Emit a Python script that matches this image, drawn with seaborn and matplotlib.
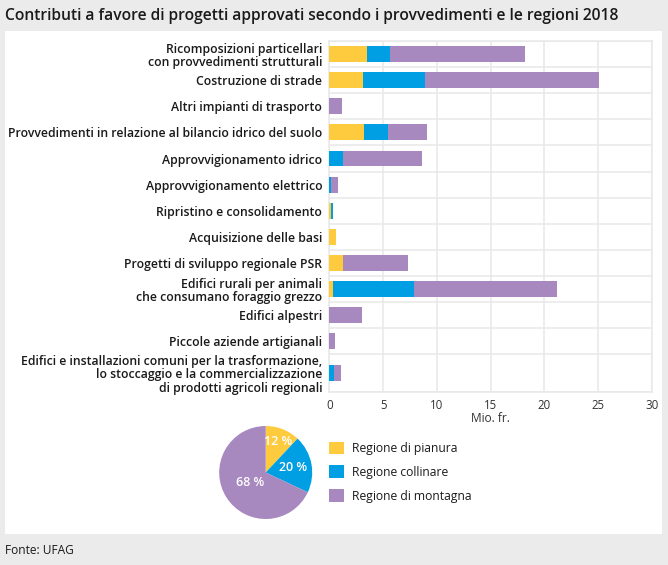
import numpy as np
import pandas as pd
import matplotlib
matplotlib.use("Agg")
import matplotlib.pyplot as plt
from matplotlib.patches import Rectangle, Patch
import seaborn as sns

# ---------------- data ----------------
categories = [
    "Ricomposizioni particellari\ncon provvedimenti strutturali",
    "Costruzione di strade",
    "Altri impianti di trasporto",
    "Provvedimenti in relazione al bilancio idrico del suolo",
    "Approvvigionamento idrico",
    "Approvvigionamento elettrico",
    "Ripristino e consolidamento",
    "Acquisizione delle basi",
    "Progetti di sviluppo regionale PSR",
    "Edifici rurali per animali\nche consumano foraggio grezzo",
    "Edifici alpestri",
    "Piccole aziende artigianali",
    "Edifici e installazioni comuni per la trasformazione,\nlo stoccaggio e la commercializzazione\ndi prodotti agricoli regionali",
]
pianura = [3.5, 3.15, 0.0, 3.2, 0.0, 0.0, 0.2, 0.65, 1.25, 0.3, 0.0, 0.0, 0.0]
collinare = [2.1, 5.75, 0.0, 2.25, 1.25, 0.15, 0.15, 0.0, 0.0, 7.55, 0.0, 0.0, 0.45]
montagna = [12.55, 16.2, 1.15, 3.65, 7.4, 0.7, 0.0, 0.0, 6.05, 13.3, 3.0, 0.55, 0.6]
series_names = ["Regione di pianura", "Regione collinare", "Regione di montagna"]
pie_shares = [12, 20, 68]
pie_labels = ["12 %", "20 %", "68 %"]
x_ticks = [0, 5, 10, 15, 20, 25, 30]
x_label = "Mio. fr."
title = "Contributi a favore di progetti approvati secondo i provvedimenti e le regioni 2018"
source = "Fonte: UFAG"

# ---------------- style ----------------
colors = ["#FECB3F", "#009FE3", "#A788BF"]
grid_c = "#E8E8E8"
bg_c = "#EBEBEB"
text_c = "#1A1A1A"
fs = 8.7

sns.set_theme(style="white")
plt.rcParams["font.family"] = ["Open Sans", "DejaVu Sans"]
plt.rcParams["font.size"] = fs

W, H = 668, 565
fig = plt.figure(figsize=(W / 100, H / 100), dpi=100, facecolor=bg_c)

def px(x0, y0, x1, y1):
    return [x0 / W, 1 - y1 / H, (x1 - x0) / W, (y1 - y0) / H]

# white panel
fig.patches.append(Rectangle((5 / W, 1 - 534 / H), (662 - 5) / W, (534 - 30.5) / H,
                             transform=fig.transFigure, facecolor="white",
                             edgecolor="none", zorder=-10))

fig.text(5 / W, 1 - 16.5 / H, title, fontsize=11.25, color=text_c,
         va="center", ha="left", fontweight="semibold")
fig.text(5 / W, 1 - 551 / H, source, fontsize=8.6, color=text_c,
         va="center", ha="left")

# ---------------- bar chart ----------------
ax = fig.add_axes(px(329.3, 41, 652, 391.7))
ax.set_facecolor("white")

row_h = np.array([1.0 if c.count("\n") < 2 else 1.43 for c in categories])
edges = np.concatenate([[0.0], np.cumsum(row_h)])
centers = edges[:-1] + row_h / 2

p = np.array(pianura)
c = np.array(collinare)
m = np.array(montagna)
df = pd.DataFrame({
    "pos": centers,
    "s1": p,
    "s2": p + c,
    "s3": p + c + m,
})

for col, colr in zip(["s3", "s2", "s1"], colors[::-1]):
    sns.barplot(data=df, x=col, y="pos", orient="y", native_scale=True,
                width=0.61, color=colr, saturation=1, linewidth=0,
                errorbar=None, ax=ax, zorder=3)

ax.set_xlim(0, 30)
ax.set_ylim(edges[-1], 0)
ax.set_xticks(x_ticks)
ax.set_xticklabels([str(t) for t in x_ticks], color="#333333", fontsize=8.3)
ax.set_yticks(centers)
ax.set_yticklabels(categories, color=text_c, fontsize=8.8, fontweight="semibold",
                   linespacing=1.08)
ax.set_yticks(edges, minor=True)
ax.tick_params(axis="both", which="both", length=0)
ax.tick_params(axis="y", pad=5)
ax.tick_params(axis="x", pad=5)
ax.xaxis.grid(True, color=grid_c, lw=1.1)
ax.yaxis.grid(True, which="minor", color=grid_c, lw=1.1)
ax.yaxis.grid(False, which="major")
ax.set_axisbelow(True)
for s in ax.spines.values():
    s.set_visible(True)
    s.set_color(grid_c)
    s.set_linewidth(1.1)
ax.set_ylabel("")
ax.set_xlabel(x_label, fontsize=8.6, color="#333333", labelpad=0)

# ---------------- pie ----------------
cx, cy, r = 265.7, 472.5, 46.5
pax = fig.add_axes(px(cx - r, cy - r, cx + r, cy + r))
wedges, _ = pax.pie(pie_shares, colors=colors, startangle=90, counterclock=False,
                    radius=1, wedgeprops=dict(linewidth=0))
pax.set_xlim(-1, 1)
pax.set_ylim(-1, 1)
label_r = [0.71, 0.6, 0.4]
for w, lab, rr in zip(wedges, pie_labels, label_r):
    ang = np.deg2rad((w.theta1 + w.theta2) / 2)
    pax.text(rr * np.cos(ang), rr * np.sin(ang), lab, ha="center", va="center",
             color="white", fontsize=9.0, fontweight="semibold")

# ---------------- legend ----------------
handles = [Patch(facecolor=col, edgecolor="none") for col in colors]
fig.legend(handles, series_names, loc="upper left",
           bbox_to_anchor=(329 / W, 1 - 441.5 / H), frameon=False,
           fontsize=fs, handlelength=1.24, handleheight=1.24,
           handletextpad=0.7, labelspacing=0.87, borderpad=0, borderaxespad=0,
           labelcolor=text_c)

fig.savefig("out.png", dpi=100, facecolor=bg_c)
